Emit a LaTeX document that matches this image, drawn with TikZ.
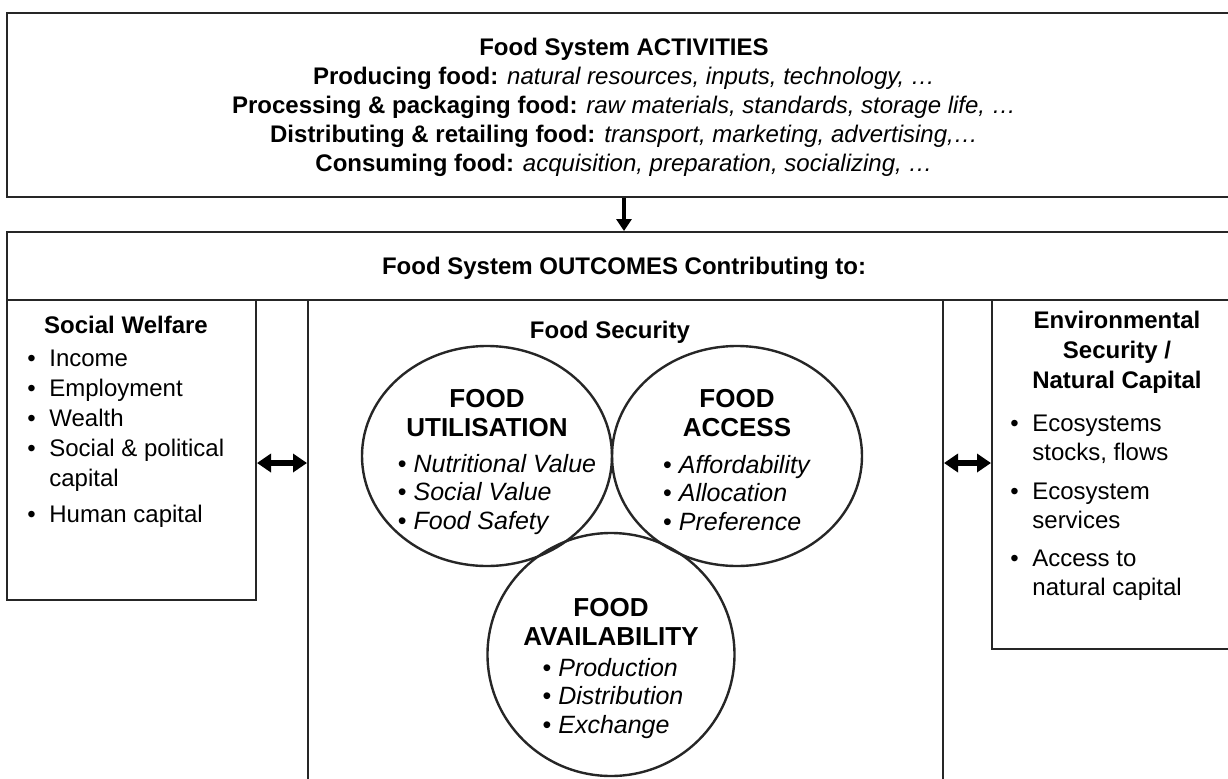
\documentclass[tikz,border=0pt]{standalone}
\usepackage{fontspec}
\setmainfont{Liberation Sans}
\usetikzlibrary{positioning, fit, arrows.meta, shapes.geometric}
\newcommand{\bul}{\textbullet}
\newcommand{\ibul}[1]{\textbullet\ \textit{#1}}

\begin{document}
\begin{tikzpicture}[
        x=0.5pt, y=-0.5pt,
        font=\fontsize{12}{14.5}\selectfont,
        box/.style={draw=black!85, line width=1pt, inner sep=0pt},
        ring/.style={draw=black!85, ellipse, line width=1.2pt, minimum width=125pt, minimum height=110pt, inner sep=0pt},
        txt/.style={inner sep=0pt},
        head/.style={txt, font=\fontsize{12}{15}\selectfont\bfseries},
        ctitle/.style={txt, font=\fontsize{13}{14.5}\selectfont\bfseries},
        citems/.style={txt, font=\fontsize{12.5}{14.25}\selectfont},
        down/.style={line width=2pt, -{Triangle[length=6pt, width=7.5pt]}},
        twoway/.style={line width=2.6pt, {Triangle[length=7pt, width=9pt]}-{Triangle[length=7pt, width=9pt]}}]
        \useasboundingbox (0,0) rectangle (1228,778);
        % Boxes
        \node[box, fit={(7,13) (1241,197)}] (activities) {};
        \node[box, fit={(7,232) (1241,300)}] (outcomes) {};
        \node[box, fit={(7,300) (256,600)}] (social) {};
        \node[box, fit={(308,300) (943,830)}] (security) {};
        \node[box, fit={(992,300) (1241,649)}] (env) {};
        % Texts
        \node[txt, align=center] (activities_text) at (624,107) {%
            \textbf{Food System ACTIVITIES}\\
            \textbf{Producing food:} \textit{natural resources, inputs, technology, …}\\
            \textbf{Processing \& packaging food:} \textit{raw materials, standards, storage life, …}\\
            \textbf{Distributing \& retailing food:} \textit{transport, marketing, advertising,…}\\
            \textbf{Consuming food:} \textit{acquisition, preparation, socializing, …}};
        \node[head, anchor=base] (outcomes_text) at (624,274) {Food System OUTCOMES Contributing to:};

        \node[head, anchor=base] (social_title) at (126,333) {Social Welfare};
        \node[txt, anchor=base west, font=\fontsize{12}{15}\selectfont] (social_list) at (27,366) {%
            \begin{tabular}[t]{@{}p{11pt}@{}l@{}}
            \bul & Income\\
            \bul & Employment\\
            \bul & Wealth\\
            \bul & Social \& political\\
                 & capital\\[3pt]
            \bul & Human capital
            \end{tabular}};

        \node[head, anchor=base] (security_title) at (610,338) {Food Security};

        \node[head, anchor=base] (env_title) at (1117,328) {%
            \begin{tabular}[t]{@{}c@{}}Environmental\\Security /\\Natural Capital\end{tabular}};
        \node[txt, anchor=base west] (env_list) at (1010,431) {%
            \begin{tabular}[t]{@{}p{11pt}@{}l@{}}
            \bul & Ecosystems\\
                 & stocks, flows\\[5pt]
            \bul & Ecosystem\\
                 & services\\[4.5pt]
            \bul & Access to\\
                 & natural capital
            \end{tabular}};
        % Circles
        \node[ring] (util) at (487,456) {};
        \node[ring] (access) at (737,456) {};
        \node[ring, minimum width=123.5pt, minimum height=121.5pt] (avail) at (611,654.5) {};

        \node[ctitle, anchor=base] (util_title) at (487,407) {%
            \begin{tabular}[t]{@{}c@{}}FOOD\\UTILISATION\end{tabular}};
        \node[citems, anchor=base] (util_list) at (497,472) {%
            \begin{tabular}[t]{@{}l@{}}\ibul{Nutritional Value}\\\ibul{Social Value}\\\ibul{Food Safety}\end{tabular}};

        \node[ctitle, anchor=base] (access_title) at (737,407) {%
            \begin{tabular}[t]{@{}c@{}}FOOD\\ACCESS\end{tabular}};
        \node[citems, anchor=base] (access_list) at (737,473) {%
            \begin{tabular}[t]{@{}l@{}}\ibul{Affordability}\\\ibul{Allocation}\\\ibul{Preference}\end{tabular}};

        \node[ctitle, anchor=base] (avail_title) at (611,616) {%
            \begin{tabular}[t]{@{}c@{}}FOOD\\AVAILABILITY\end{tabular}};
        \node[citems, anchor=base] (avail_list) at (613,676) {%
            \begin{tabular}[t]{@{}l@{}}\ibul{Production}\\\ibul{Distribution}\\\ibul{Exchange}\end{tabular}};
        % Arrows
        \coordinate (level) at (0,463);
        \draw[down] (activities.south) -- (outcomes.north);
        \draw[twoway] (social.east |- level) -- (security.west |- level);
        \draw[twoway] (security.east |- level) -- (env.west |- level);
\end{tikzpicture}
\end{document}
